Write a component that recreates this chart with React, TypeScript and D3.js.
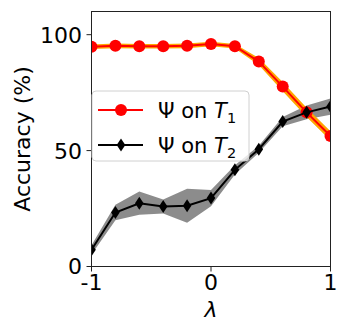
import React from 'react';
import * as d3 from 'd3';

const lambdas = [-1, -0.8, -0.6, -0.4, -0.2, 0, 0.2, 0.4, 0.6, 0.8, 1];
const t1Mean = [94.8, 95.2, 95, 95, 95.2, 96, 95, 88.4, 77.6, 66.5, 56.3];
const t1Std = [1, 1, 1, 1, 1, 1, 1, 1.5, 2, 2, 2];
const t2Mean = [7.2, 23.3, 27.3, 25.9, 26.2, 29.5, 41.7, 50.6, 62.5, 66.5, 69];
const t2Std = [2, 3.3, 5, 3, 7.3, 3.5, 2, 1.5, 2, 3, 3.5];
const xTicks = [-1, 0, 1];
const yTicks = [0, 50, 100];

const font = 'DejaVu Sans, sans-serif';

function App() {
    const width = 350;
    const height = 332;
    const margin = { top: 11.5, right: 19.5, bottom: 65.5, left: 91.5 };

    const x = d3.scaleLinear().domain([-1, 1]).range([margin.left, width - margin.right]);
    const y = d3.scaleLinear().domain([0, 110]).range([height - margin.bottom, margin.top]);

    const line = d3.line<number>().x((d, i) => x(lambdas[i])).y(d => y(d));
    const band = (mean: number[], std: number[]) =>
        d3.area<number>()
            .x((d, i) => x(lambdas[i]))
            .y0((d, i) => y(mean[i] - std[i]))
            .y1((d, i) => y(mean[i] + std[i]))(mean);

    const diamond = (cx: number, cy: number) =>
        `M${cx},${cy - 6.5}L${cx + 4.3},${cy}L${cx},${cy + 6.5}L${cx - 4.3},${cy}Z`;

    const x0 = margin.left;
    const x1 = width - margin.right;
    const y0 = height - margin.bottom;
    const y1 = margin.top;

    // legend
    const lg = { x: 92, y: 91, w: 157, h: 70 };

    return (
        <svg width={width} height={height} style={{ position: 'absolute', left: 0, top: 0 }}>
            <defs>
                <clipPath id="plot">
                    <rect x={x0} y={y1} width={x1 - x0} height={y0 - y1} />
                </clipPath>
            </defs>
            <rect width={width} height={height} fill="white" />
            <g clipPath="url(#plot)">
                <path d={band(t2Mean, t2Std) || ''} fill="#808080" opacity={0.9} />
                <path d={band(t1Mean, t1Std) || ''} fill="orange" />
                <path d={line(t1Mean) || ''} fill="none" stroke="red" strokeWidth={2} />
                {t1Mean.map((v, i) => (
                    <circle key={i} cx={x(lambdas[i])} cy={y(v)} r={6} fill="red" />
                ))}
                <path d={line(t2Mean) || ''} fill="none" stroke="black" strokeWidth={2} />
                {t2Mean.map((v, i) => (
                    <path key={i} d={diamond(x(lambdas[i]), y(v))} fill="black" />
                ))}
            </g>

            {/* axes frame */}
            <rect x={x0} y={y1} width={x1 - x0} height={y0 - y1} fill="none" stroke="#222" strokeWidth={1} />

            {xTicks.map(t => (
                <g key={t}>
                    <line x1={x(t)} x2={x(t)} y1={y0} y2={y0 + 5} stroke="#222" />
                    <text x={x(t)} y={290} textAnchor="middle" fontFamily={font} fontSize={22}>
                        {t === -1 ? '-1' : String(t)}
                    </text>
                </g>
            ))}
            {yTicks.map(t => (
                <g key={t}>
                    <line x1={x0 - 5} x2={x0} y1={y(t)} y2={y(t)} stroke="#222" />
                    <text x={82} y={y(t)} dy="0.36em" textAnchor="end" fontFamily={font} fontSize={22}>
                        {t}
                    </text>
                </g>
            ))}

            <text x={x(0)} y={317} textAnchor="middle" fontFamily={font} fontSize={22} fontStyle="italic">λ</text>
            <text transform={`translate(22,139) rotate(-90)`} textAnchor="middle" dy="0.36em"
                fontFamily={font} fontSize={22}>Accuracy (%)</text>

            <g>
                <rect x={lg.x} y={lg.y} width={lg.w} height={lg.h} rx={4} fill="white" fillOpacity={0.8} stroke="#d0d0d0" />
                <line x1={98} x2={143} y1={110} y2={110} stroke="red" strokeWidth={2} />
                <circle cx={121} cy={110} r={6} fill="red" />
                <text x={158} y={110} dy="0.36em" fontFamily={font} fontSize={21}>
                    Ψ on <tspan fontStyle="italic">T</tspan><tspan fontSize={14.5} dy={5}>1</tspan>
                </text>
                <line x1={98} x2={143} y1={145} y2={145} stroke="black" strokeWidth={2} />
                <path d={diamond(121, 145)} fill="black" />
                <text x={158} y={145} dy="0.36em" fontFamily={font} fontSize={21}>
                    Ψ on <tspan fontStyle="italic">T</tspan><tspan fontSize={14.5} dy={5}>2</tspan>
                </text>
            </g>
        </svg>
    );
}

export default App;
